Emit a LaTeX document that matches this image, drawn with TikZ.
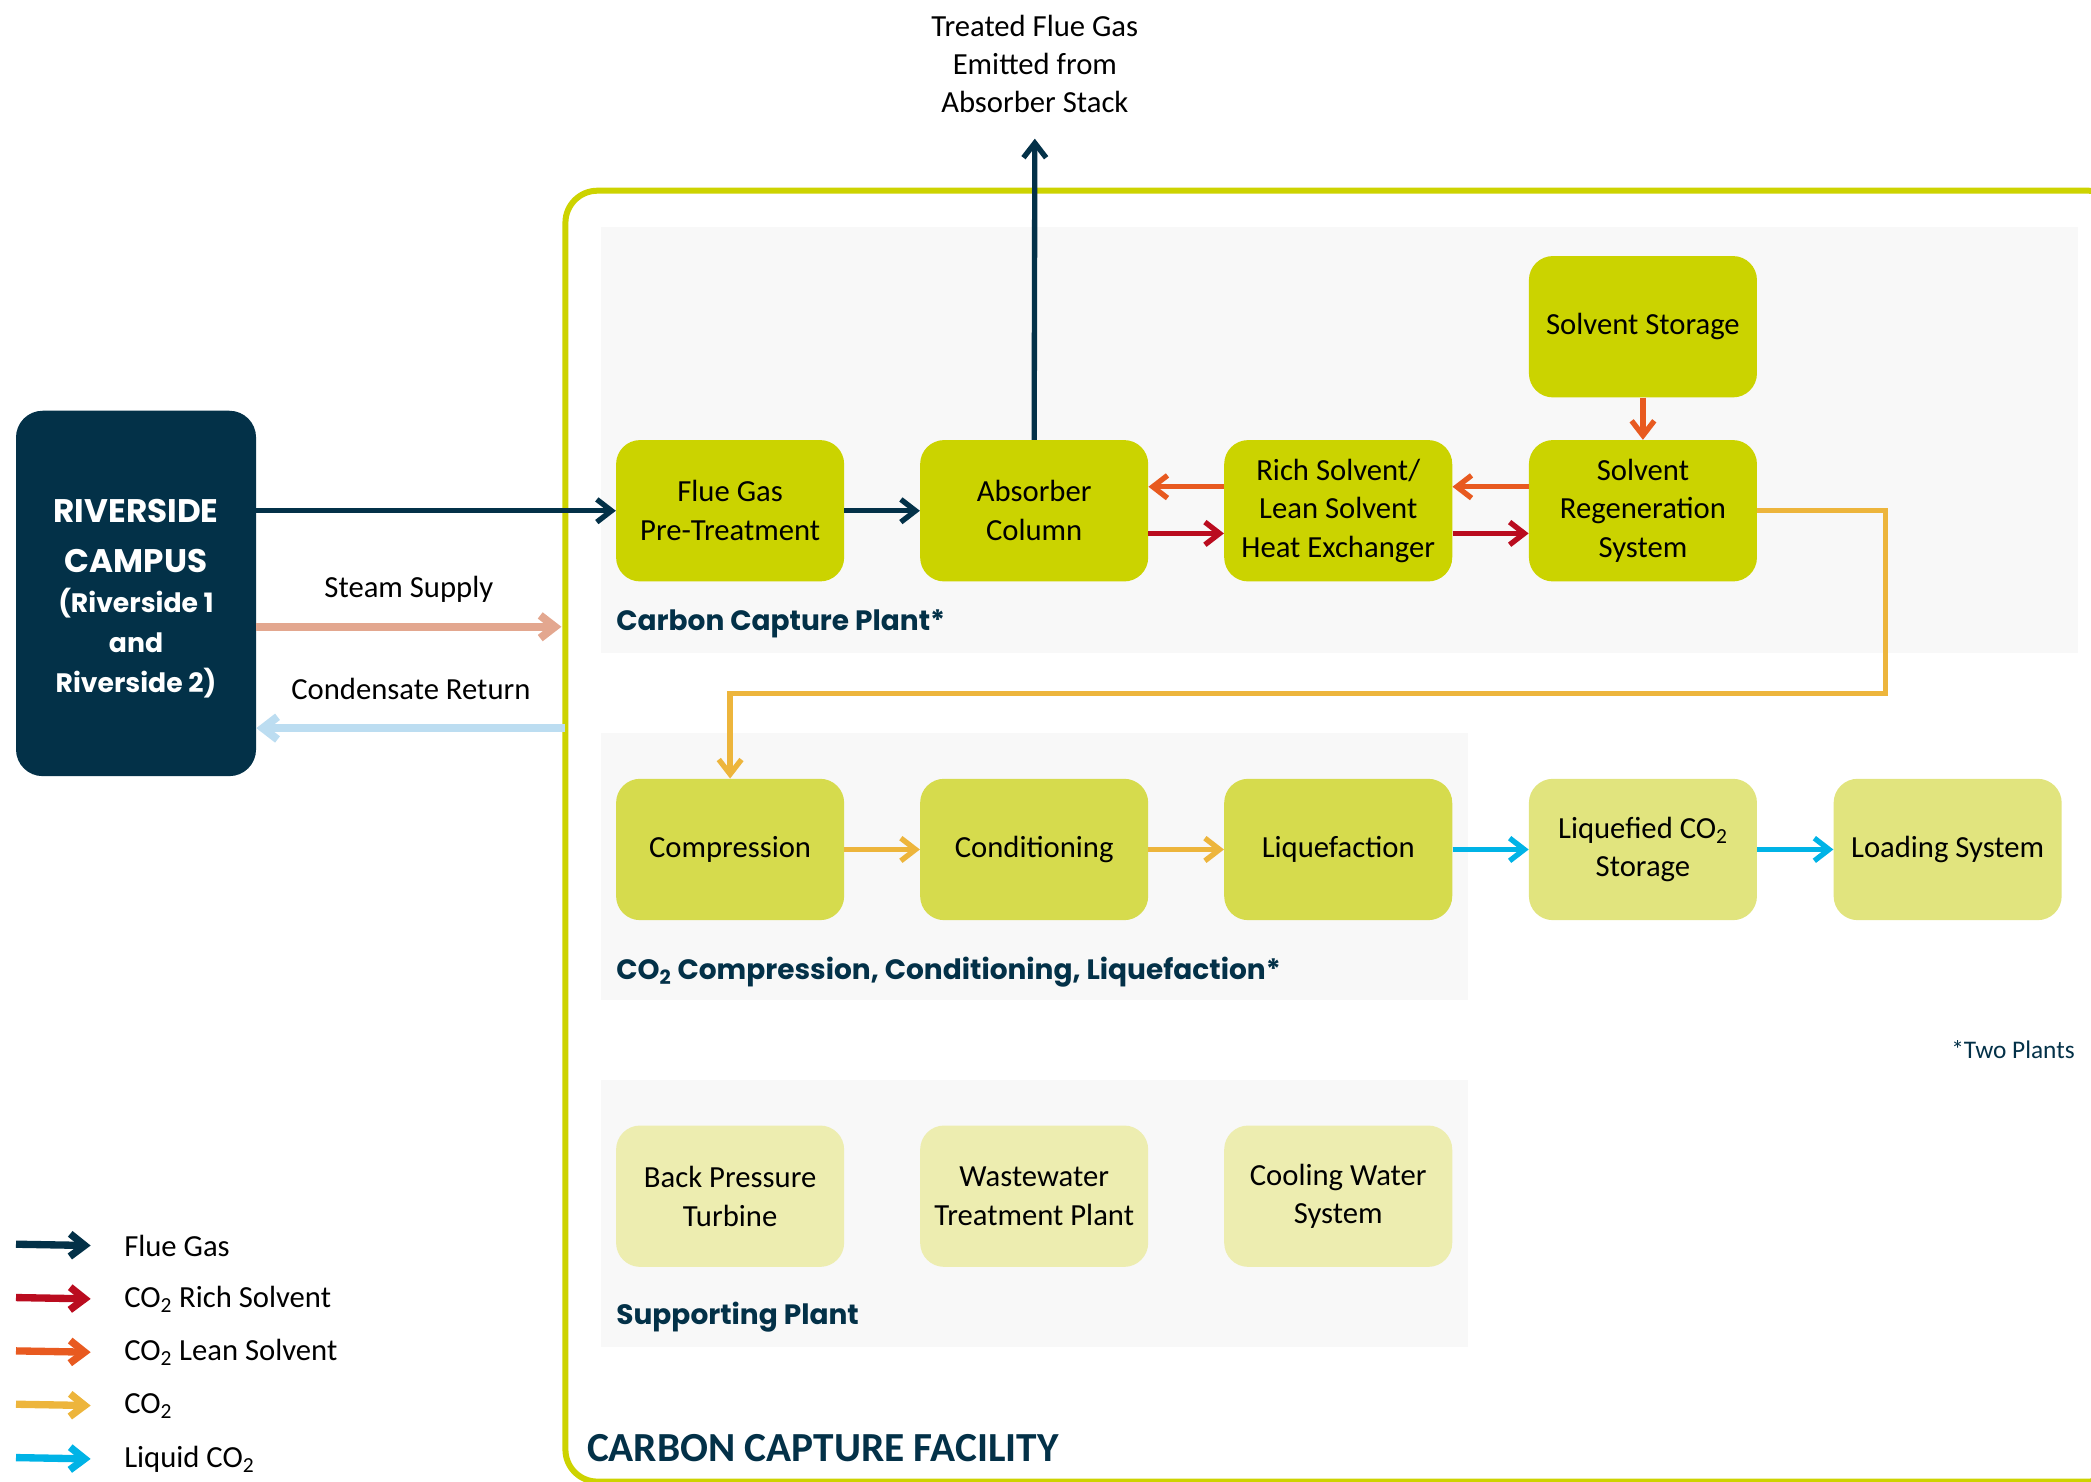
\documentclass[tikz,border=0pt]{standalone}
\usepackage{fontspec}
\setmainfont{Carlito}
\newfontfamily\headfont{Poppins}
\usetikzlibrary{arrows.meta,positioning}

\definecolor{navy}{RGB}{3,49,72}
\definecolor{limeA}{RGB}{203,211,0}
\definecolor{limeB}{RGB}{214,219,77}
\definecolor{limeC}{RGB}{225,228,126}
\definecolor{limeD}{RGB}{237,237,176}
\definecolor{frameC}{RGB}{205,211,0}
\definecolor{panelC}{RGB}{248,248,248}
\definecolor{richC}{RGB}{186,12,31}
\definecolor{leanC}{RGB}{232,90,32}
\definecolor{gasC}{RGB}{237,181,60}
\definecolor{liqC}{RGB}{0,179,230}
\definecolor{steamC}{RGB}{227,167,143}
\definecolor{condC}{RGB}{188,221,241}

\newcommand{\cotwo}{CO\textsubscript{2}}

\begin{document}
\begin{tikzpicture}[x=1pt,y=-1pt,
  unit/.style={rounded corners=18pt,minimum width=171pt,minimum height=106pt,
    align=center,inner sep=2pt,font=\fontsize{23}{29}\selectfont},
  tip/.style={line width=#1,-{Straight Barb[length=11pt,width=17pt,sharp]}},
  fg/.style={tip=4pt,draw=navy},
  rich/.style={tip=4pt,draw=richC},
  lean/.style={tip=4pt,draw=leanC},
  gas/.style={tip=4pt,draw=gasC},
  liq/.style={tip=4pt,draw=liqC},
  tag/.style={anchor=west,inner sep=0pt,text=navy,font=\headfont\fontsize{21}{26}\selectfont\bfseries},
  legtext/.style={anchor=west,inner sep=0pt,font=\fontsize{23}{26}\selectfont}]
\useasboundingbox (0,0) rectangle (1568,1111);
\clip (0,0) rectangle (1568,1111);

% facility frame and plant panels
\draw[frameC,line width=4.5pt,rounded corners=24pt] (424,143) rectangle (1590,1111);
\fill[panelC] (451,170) rectangle (1558,490);
\fill[panelC] (451,550) rectangle (1101,750);
\fill[panelC] (451,810) rectangle (1101,1010);

% campus
\node[fill=navy,rounded corners=20pt,minimum width=180pt,minimum height=274pt] (RC) at (102,445) {};
\node[text=white,align=center,font=\headfont\fontsize{20}{30}\selectfont\bfseries]
  (RCT) at ([yshift=-4pt]RC.center) {{\fontsize{24.5}{36}\selectfont RIVERSIDE}\\[7pt]{\fontsize{24.5}{33}\selectfont CAMPUS}\\(Riverside 1\\and\\Riverside 2)};

% carbon capture plant
\node[unit,fill=limeA] (FGP) at (547.5,383) {Flue Gas\\Pre-Treatment};
\node[unit,fill=limeA] (AC) at (775.5,383) {Absorber\\Column};
\node[unit,fill=limeA] (HX) at (1003.5,383) {Rich Solvent/\\Lean Solvent\\Heat Exchanger};
\node[unit,fill=limeA] (SR) at (1232,383) {Solvent\\Regeneration\\System};
\node[unit,fill=limeA] (SS) at (1232,245) {Solvent Storage};
\node[tag] (CCP) at (462,468) {Carbon Capture Plant*};

% compression, conditioning, liquefaction
\node[unit,fill=limeB] (CP) at (547.5,637) {Compression};
\node[unit,fill=limeB] (CD) at (775.5,637) {Conditioning};
\node[unit,fill=limeB] (LQ) at (1003.5,637) {Liquefaction};
\node[unit,fill=limeC] (LS) at (1232,637) {Liquefied \cotwo\\Storage};
\node[unit,fill=limeC] (LD) at (1460.5,637) {Loading System};
\node[tag] (CCL) at (462,729) {\cotwo{} Compression, Conditioning, Liquefaction*};
\node[anchor=east,inner sep=0pt,text=navy,font=\fontsize{19}{22}\selectfont] (TWO) at (1556,787) {*Two Plants};

% supporting plant
\node[unit,fill=limeD] (BPT) at (547.5,897) {Back Pressure\\Turbine};
\node[unit,fill=limeD] (WTP) at (775.5,897) {Wastewater\\Treatment Plant};
\node[unit,fill=limeD] (CWS) at (1003.5,897) {Cooling Water\\System};
\node[tag] (SUP) at (462,988) {Supporting Plant};

\node[anchor=west,inner sep=0pt,text=navy,font=\fontsize{31}{34}\selectfont\bfseries] (CCF) at (440,1086) {CARBON CAPTURE FACILITY};

% stack
\node[align=center,font=\fontsize{23}{28.5}\selectfont] (TFG) at (776,48) {Treated Flue Gas\\Emitted from\\Absorber Stack};
\coordinate (STK) at (776,104);
\coordinate (SI) at (421,470);
\coordinate (CO) at (424,546);

% flows
\draw[fg] (RC.east |- FGP) -- (FGP.west);
\draw[fg] (FGP) -- (AC);
\draw[fg] (AC.north) -- (STK);
\draw[lean] ([yshift=18pt]HX.west) -- ([yshift=18pt]AC.east);
\draw[lean] ([yshift=18pt]SR.west) -- ([yshift=18pt]HX.east);
\draw[rich] ([yshift=-17pt]AC.east) -- ([yshift=-17pt]HX.west);
\draw[rich] ([yshift=-17pt]HX.east) -- ([yshift=-17pt]SR.west);
\draw[lean] (SS) -- (SR);
\draw[gas] (SR.east) -| (1414,520) -| (CP.north);
\draw[gas] (CP) -- (CD);
\draw[gas] (CD) -- (LQ);
\draw[liq] (LQ) -- (LS);
\draw[liq] (LS) -- (LD);
\draw[tip=6pt,draw=steamC] (RC.east |- SI) to node[above=12pt,font=\fontsize{23}{26}\selectfont]{Steam Supply} (SI);
\draw[tip=6pt,draw=condC] (CO) to node[above=15pt,font=\fontsize{23}{26}\selectfont]{Condensate Return} (RC.east |- CO);

% legend
\node[legtext] (L1) at (93,934) {Flue Gas};
\node[legtext] (L2) at (93,974) {\cotwo{} Rich Solvent};
\node[legtext] (L3) at (93,1014) {\cotwo{} Lean Solvent};
\node[legtext] (L4) at (93,1054) {\cotwo};
\node[legtext] (L5) at (93,1094) {Liquid \cotwo};
\draw[fg,tip=5.5pt] (12,933) -- ([xshift=-25pt]L1.west);
\draw[rich,tip=5.5pt] (12,973) -- ([xshift=-25pt]L2.west);
\draw[lean,tip=5.5pt] (12,1013) -- ([xshift=-25pt]L3.west);
\draw[gas,tip=5.5pt] (12,1053) -- ([xshift=-25pt]L4.west);
\draw[liq,tip=5.5pt] (12,1093) -- ([xshift=-25pt]L5.west);
\end{tikzpicture}
\end{document}
